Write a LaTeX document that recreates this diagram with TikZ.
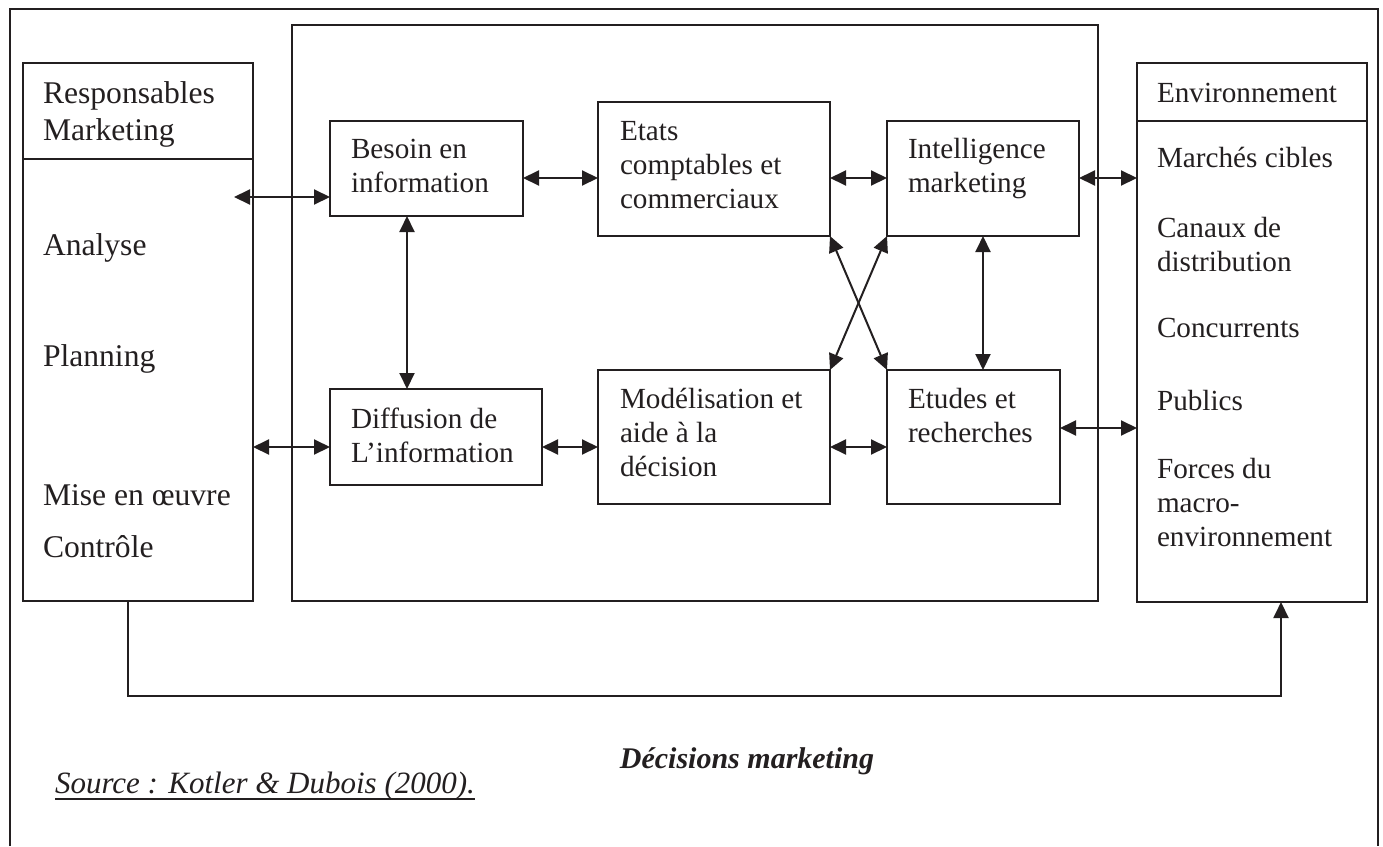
\documentclass[tikz,border=0pt]{standalone}
\usepackage{fontspec}
\setmainfont{Liberation Serif}
\usetikzlibrary{arrows.meta}
\definecolor{ink}{RGB}{35,31,32}
% left-aligned block of lines whose baseline is the first line's
\newcommand\stacklines[1]{\vtop{\halign{##\hfil\cr#1\crcr}}}
\begin{document}
\begin{tikzpicture}[x=1pt,y=-1pt,
  box/.style={draw=ink, line width=2.2pt, inner sep=0pt, outer sep=0pt, anchor=north west},
  txt/.style={inner sep=0pt, outer sep=0pt, text=ink, anchor=base west,
    font=\fontsize{29.2}{34}\selectfont},
  bigtxt/.style={txt, font=\fontsize{31.6}{37}\selectfont},
  tip/.tip={Triangle[length=16pt,width=15pt]},
  dbl/.style={draw=ink, line width=2pt, tip-tip},
  sgl/.style={draw=ink, line width=2pt, -tip},
  rule/.style={draw=ink, line width=2.2pt}]
\useasboundingbox (0,0) rectangle (1383,846);

% outer frame (open at the bottom)
\draw[rule] (10,846) -- (10,9) -- (1378,9) -- (1378,846);

% main blocks
\node[box, minimum width=230pt, minimum height=538pt] (resp) at (23,63) {};
\node[box, minimum width=806pt, minimum height=576pt] (sim) at (292,25) {};
\node[box, minimum width=230pt, minimum height=539pt] (env) at (1137,63) {};
\coordinate (divL) at (0,159);
\coordinate (divR) at (0,121);
\draw[rule] (resp.west |- divL) -- (resp.east |- divL);
\draw[rule] (env.west |- divR) -- (env.east |- divR);

% information system components
\node[box, minimum width=193pt, minimum height=95pt]  (besoin) at (330,121) {};
\node[box, minimum width=232pt, minimum height=134pt] (etats)  at (598,102) {};
\node[box, minimum width=192pt, minimum height=115pt] (intel)  at (887,121) {};
\node[box, minimum width=212pt, minimum height=96pt]  (diffu)  at (330,389) {};
\node[box, minimum width=232pt, minimum height=134pt] (model)  at (598,370) {};
\node[box, minimum width=173pt, minimum height=134pt] (etudes) at (887,370) {};

% texts of the components
\node[txt] (tbesoin) at (351,158) {\stacklines{Besoin en\cr information}};
\node[txt] (tetats)  at (620,140) {\stacklines{Etats\cr comptables et\cr commerciaux}};
\node[txt] (tintel)  at (908,158) {\stacklines{Intelligence\cr marketing}};
\node[txt] (tdiffu)  at (351,428) {\stacklines{Diffusion de\cr L’information}};
\node[txt] (tmodel)  at (620,408) {\stacklines{Modélisation et\cr aide à la\cr décision}};
\node[txt] (tetudes) at (908,408) {\stacklines{Etudes et\cr recherches}};

% marketing managers
\node[bigtxt] (tresp) at (43,103) {\stacklines{Responsables\cr Marketing}};
\node[bigtxt] (tana)  at (43,255) {Analyse};
\node[bigtxt] (tplan) at (43,366) {Planning};
\node[bigtxt] (tmise) at (43,505) {Mise en œuvre};
\node[bigtxt] (tctrl) at (43,557) {Contrôle};

% environment
\node[txt] (tenv)   at (1157,102) {Environnement};
\node[txt] (tmar)   at (1157,167) {Marchés cibles};
\node[txt] (tcan)   at (1157,237) {\stacklines{Canaux de\cr distribution}};
\node[txt] (tconc)  at (1157,337) {Concurrents};
\node[txt] (tpub)   at (1157,410) {Publics};
\node[txt] (tforce) at (1157,478) {\stacklines{Forces du\cr macro-\cr environnement}};

% connectors
\coordinate (yTop) at (0,178);
\coordinate (yBot) at (0,447);
\coordinate (yEt)  at (0,428);
\coordinate (inL)  at (234,197);
\coordinate (xV)   at (407,0);
\coordinate (xI)   at (983,0);

\draw[dbl] (inL) -- (besoin.west |- inL);
\draw[dbl] (besoin.east |- yTop) -- (etats.west |- yTop);
\draw[dbl] (etats.east |- yTop) -- (intel.west |- yTop);
\draw[dbl] (intel.east |- yTop) -- (env.west |- yTop);
\draw[dbl] (besoin.south -| xV) -- (diffu.north -| xV);
\draw[dbl] (intel.south -| xI) -- (etudes.north -| xI);
\draw[dbl] (resp.east |- yBot) -- (diffu.west |- yBot);
\draw[dbl] (diffu.east |- yBot) -- (model.west |- yBot);
\draw[dbl] (model.east |- yBot) -- (etudes.west |- yBot);
\draw[dbl] (etudes.east |- yEt) -- (env.west |- yEt);
\draw[dbl] (etats.south east) -- (etudes.north west);
\draw[dbl] (intel.south west) -- (model.north east);

% decision loop back to the environment
\coordinate (bl) at (128,696);
\coordinate (br) at (1281,696);
\draw[sgl] (resp.south -| bl) -- (bl) -- (br) -- (env.south -| br);

% captions
\node[txt, anchor=base, font=\fontsize{30}{36}\selectfont\bfseries\itshape] (dec) at (747,768) {Décisions marketing};
\node[txt, font=\fontsize{31}{36}\selectfont\itshape] (src) at (55,793) {Source : Kotler \& Dubois (2000).};
\draw[draw=ink, line width=1.6pt] ([yshift=-6pt]src.base west) -- ([yshift=-6pt]src.base east);
\end{tikzpicture}
\end{document}
